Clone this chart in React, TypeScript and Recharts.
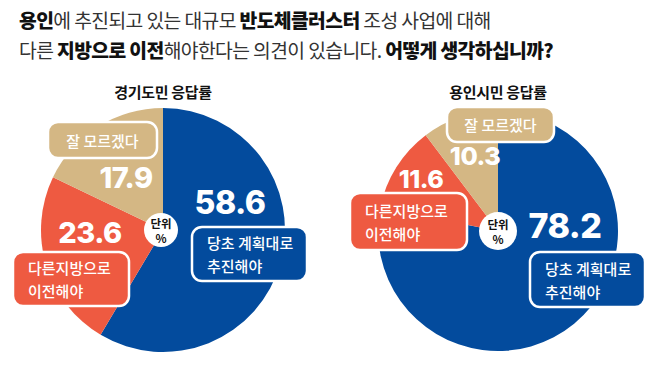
import React from 'react';
import { PieChart, Pie, Cell } from 'recharts';

const answerLines = [['당초 계획대로', '추진해야'], ['다른지방으로', '이전해야'], ['잘 모르겠다']];
const gyeonggiShares = [58.6, 23.6, 17.9];
const yonginShares = [78.2, 11.6, 10.3];
const panelTitles = ['경기도민 응답률', '용인시민 응답률'];
const unitLines = ['단위', '%'];

const COLORS = ['#034b9d', '#ee5a41', '#d4b784'];
const FONT = '"Noto Sans CJK KR", "Noto Sans", sans-serif';
const NUM_FONT = 'Inter, "Noto Sans", sans-serif';

// offsets from the pie centre: number (x, y, size) and box (x, y, w, h)
const leftLayout = {
  cx: 163, cy: 230, r: 122, unitR: 17, unitDx: -2,
  nums: [
    { dx: 67, dy: -28, size: 32 },
    { dx: -73, dy: 2, size: 29 },
    { dx: -37, dy: -53, size: 29 },
  ],
  boxes: [
    { dx: 29, dy: -3, w: 115, h: 54 },
    { dx: -150, dy: 22, w: 116, h: 54 },
    { dx: -115, dy: -108, w: 109, h: 36 },
  ],
};

const rightLayout = {
  cx: 498, cy: 231, r: 120, unitR: 19, unitDx: 0,
  nums: [
    { dx: 67, dy: -6, size: 34 },
    { dx: -77, dy: -52, size: 25 },
    { dx: -23, dy: -75, size: 25 },
  ],
  boxes: [
    { dx: 32, dy: 21, w: 115, h: 55 },
    { dx: -148, dy: -38, w: 117, h: 57 },
    { dx: -51, dy: -124, w: 107, h: 35 },
  ],
};

const makeLabel = (layout: any) => (props: any) => {
  const { cx, cy, index, value } = props;
  const n = layout.nums[index];
  const b = layout.boxes[index];
  const lines = answerLines[index];
  const bx = cx + b.dx;
  const by = cy + b.dy;
  const single = lines.length === 1;
  const ux = cx + layout.unitDx;
  return (
    <g key={`lab-${index}`}>
      {index === 0 && (
        <g>
          <circle cx={ux} cy={cy} r={layout.unitR} fill="#fff" />
          <text textAnchor="middle" fontFamily={FONT} fontSize={11.5} fontWeight={700} fill="#111">
            <tspan x={ux} y={cy - 2}>{unitLines[0]}</tspan>
            <tspan x={ux} y={cy + 13}>{unitLines[1]}</tspan>
          </text>
        </g>
      )}
      <text x={cx + n.dx} y={cy + n.dy} textAnchor="middle" dominantBaseline="central"
        fontFamily={NUM_FONT} fontSize={n.size} fontWeight={800} fill="#fff" letterSpacing={-0.5}>
        {value.toFixed(1)}
      </text>
      <rect x={bx} y={by} width={b.w} height={b.h} rx={10} ry={10}
        fill={COLORS[index]} stroke="#fff" strokeWidth={2.5} />
      {lines.map((line, i) => (
        <text key={i}
          x={single ? bx + b.w / 2 : bx + 15}
          y={by + b.h / 2 + (single ? 0 : (i - 0.5) * 23)}
          textAnchor={single ? 'middle' : 'start'} dominantBaseline="central"
          fontFamily={FONT} fontSize={15} fontWeight={500} fill="#fff">
          {line}
        </text>
      ))}
    </g>
  );
};

const toRows = (shares: number[]) => shares.map((v, i) => ({ name: answerLines[i].join(' '), value: v }));

export default function App() {
  const bold = { fontWeight: 800, color: '#111' };
  return (
    <div style={{ position: 'absolute', left: 0, top: 0, width: 658, height: 370, background: '#fff', fontFamily: FONT }}>
      <div style={{ position: 'absolute', left: 19, top: 5, fontSize: 19.3, lineHeight: '30px', color: '#333', letterSpacing: -0.6, whiteSpace: 'nowrap' }}>
        <div><span style={bold}>용인</span>에 추진되고 있는 대규모 <span style={bold}>반도체클러스터</span> 조성 사업에 대해</div>
        <div>다른 <span style={bold}>지방으로 이전</span>해야한다는 의견이 있습니다. <span style={bold}>어떻게 생각하십니까?</span></div>
      </div>
      {panelTitles.map((t, i) => (
        <div key={t} style={{ position: 'absolute', left: (i === 0 ? 163 : 498) - 80, width: 160, top: 81, textAlign: 'center', fontSize: 15, fontWeight: 600, color: '#111', lineHeight: '22px', letterSpacing: -0.3 }}>
          {t}
        </div>
      ))}
      <div style={{ position: 'absolute', left: 0, top: 0 }}>
        <PieChart width={658} height={370} margin={{ top: 0, right: 0, bottom: 0, left: 0 }}>
          <Pie data={toRows(gyeonggiShares)} dataKey="value" nameKey="name"
            cx={leftLayout.cx} cy={leftLayout.cy} outerRadius={leftLayout.r}
            startAngle={90} endAngle={-270} stroke="none"
            isAnimationActive={false} labelLine={false} label={makeLabel(leftLayout)}>
            {gyeonggiShares.map((_, i) => <Cell key={i} fill={COLORS[i]} />)}
          </Pie>
          <Pie data={toRows(yonginShares)} dataKey="value" nameKey="name"
            cx={rightLayout.cx} cy={rightLayout.cy} outerRadius={rightLayout.r}
            startAngle={90} endAngle={-270} stroke="none"
            isAnimationActive={false} labelLine={false} label={makeLabel(rightLayout)}>
            {yonginShares.map((_, i) => <Cell key={i} fill={COLORS[i]} />)}
          </Pie>
        </PieChart>
      </div>
    </div>
  );
}
